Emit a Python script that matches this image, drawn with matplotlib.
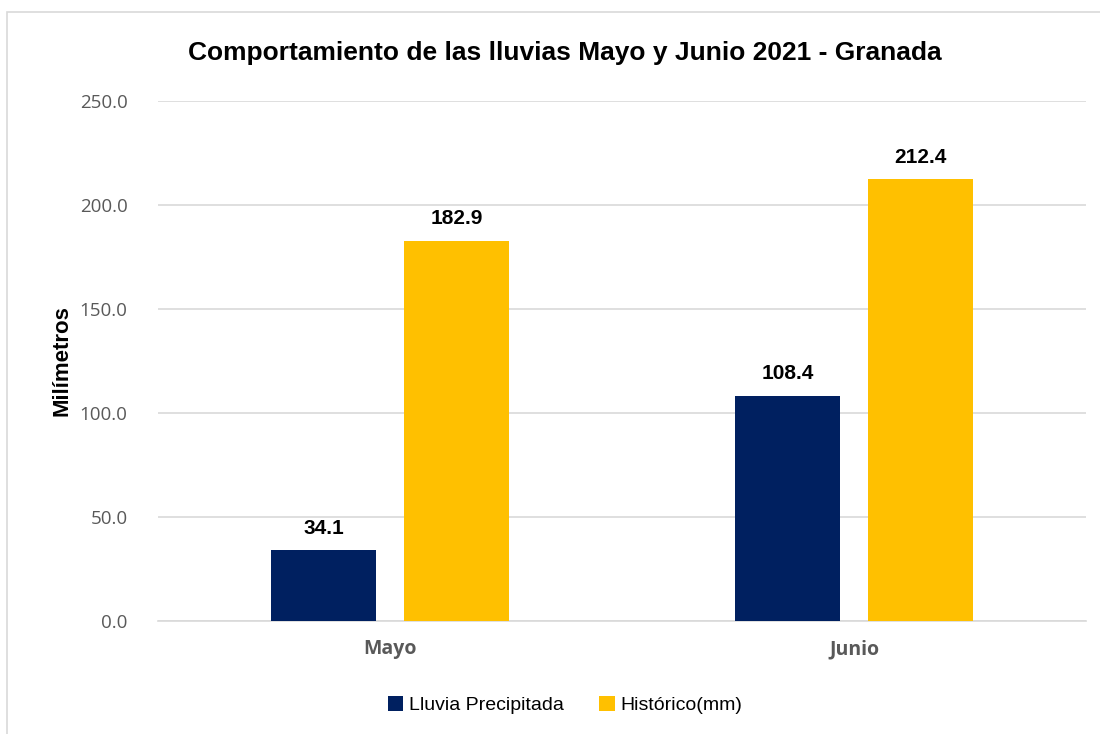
import matplotlib
matplotlib.use("Agg")
import matplotlib.pyplot as plt
import numpy as np
from matplotlib.patches import Rectangle

meses = ["Mayo", "Junio"]
lluvia = [34.1, 108.4]
historico = [182.9, 212.4]
series = ["Lluvia Precipitada", "Histórico(mm)"]
yticks = [0, 50, 100, 150, 200, 250]

narrow = "Liberation Sans"
navy = "#002060"
gold = "#FFC000"

fig = plt.figure(figsize=(11, 7.34), dpi=100)
fig.patches.append(Rectangle((7 / 1100, -0.01), 1.2, 1 - 12 / 734 + 0.01, transform=fig.transFigure,
                             fill=False, edgecolor="#d9d9d9", lw=1.2))
ax = fig.add_axes([158 / 1100, 1 - 621 / 734, (1086 - 158) / 1100, (621 - 101) / 734])

x = np.arange(len(meses))
w = 0.226
off = 0.143
b1 = ax.bar(x - off, lluvia, w, color=navy, label=series[0], zorder=3)
b2 = ax.bar(x + off, historico, w, color=gold, label=series[1], zorder=3)

for bars in (b1, b2):
    for r in bars:
        ax.annotate(f"{r.get_height():.1f}", (r.get_x() + r.get_width() / 2, r.get_height()),
                    xytext=(0, 9), textcoords="offset points", ha="center", va="bottom",
                    fontsize=15, fontweight="bold", family=narrow, color="black")

ax.set_xlim(-0.5, 1.5)
ax.set_ylim(0, 250)
ax.set_yticks(yticks)
ax.set_yticklabels([f"{v:.1f}" for v in yticks], fontsize=13.5, color="#595959", family="Open Sans")
ax.set_xticks(x)
ax.set_xticklabels(meses, fontsize=14, fontweight="bold", color="#595959", family="Open Sans")
ax.tick_params(axis="both", length=0)
ax.tick_params(axis="y", pad=22)
ax.tick_params(axis="x", pad=13)
ax.grid(axis="y", color="#d9d9d9", lw=1.2, zorder=0)
for s in ["top", "right", "left"]:
    ax.spines[s].set_visible(False)
ax.spines["bottom"].set_color("#d9d9d9")
ax.spines["bottom"].set_linewidth(1.2)

ax.set_ylabel("Milímetros", fontsize=16, fontweight="bold", family=narrow, labelpad=5)
fig.text(565 / 1100, 1 - 53 / 734, "Comportamiento de las lluvias Mayo y Junio 2021 - Granada",
         ha="center", va="center", fontsize=19, fontweight="bold", family=narrow)

leg = fig.legend(loc="center", bbox_to_anchor=(565 / 1100, 1 - 705 / 734), ncol=2, frameon=False,
                 prop={"family": narrow, "size": 14}, handlelength=0.8, handleheight=0.8,
                 handletextpad=0.3, columnspacing=1.8)

fig.savefig("out.png", dpi=100)
